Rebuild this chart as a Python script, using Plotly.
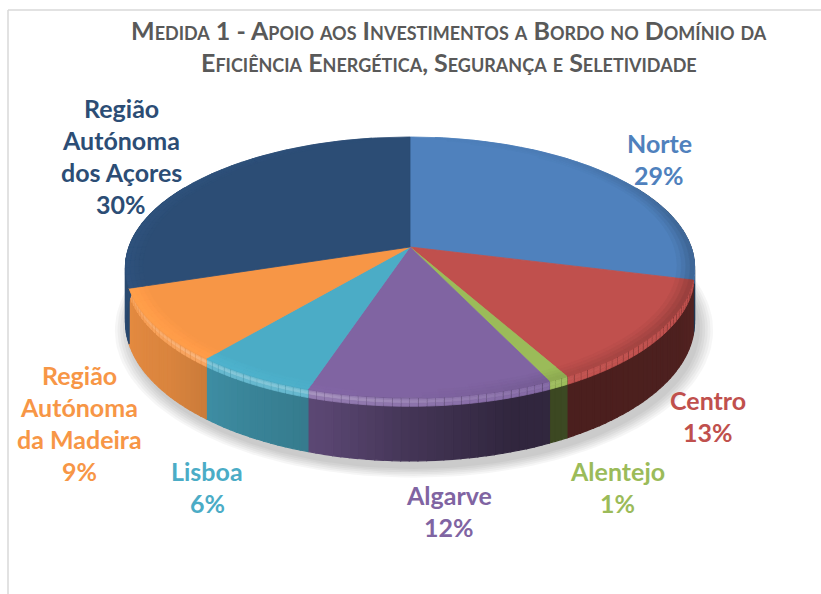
import numpy as np
import plotly.graph_objects as go

# ---------------- data ----------------
categories = ["Norte", "Centro", "Alentejo", "Algarve", "Lisboa",
              "Região Autónoma da Madeira", "Região Autónoma dos Açores"]
label_lines = [["Norte"], ["Centro"], ["Alentejo"], ["Algarve"], ["Lisboa"],
               ["Região", "Autónoma", "da Madeira"],
               ["Região", "Autónoma", "dos Açores"]]
values = [29, 13, 1, 12, 6, 9, 30]
colors = ["#4F81BD", "#C0504D", "#9BBB59", "#8064A2", "#4BACC6", "#F79646", "#2C4D75"]
title_lines = ["Medida 1 - Apoio aos Investimentos a Bordo no Domínio da",
               "Eficiência Energética, Segurança e Seletividade"]

# ---------------- layout / geometry (styles) ----------------
W, H_PX = 821, 594
CX, CY = 410.0, 247.0      # apex of the pie
SX, SY = 281.0, 127.3      # radii of projected disk
K = 0.157                  # perspective strength
DEPTH = 53.0               # thickness of the pie
label_pos = [(659, 159), (708, 416), (617, 487), (449, 511),
             (207, 487), (79, 423), (121, 156)]
LINE_GAP = 32
LABEL_FONT = dict(family="Lato", size=25)

def proj(theta_deg, r=1.0, dz=0.0):
    t = np.radians(theta_deg)
    u = r * np.sin(t)
    v = -r * np.cos(t)
    d = 1.0 - K * v
    return CX + SX * u / d, CY + SY * v / d + dz / d

def arc(a0, a1, r=1.0, dz=0.0, step=1.0):
    n = max(2, int(np.ceil(abs(a1 - a0) / step)) + 1)
    th = np.linspace(a0, a1, n)
    return proj(th, r, dz)

def hex2rgb(h):
    h = h.lstrip("#")
    return np.array([int(h[i:i + 2], 16) for i in (0, 2, 4)], dtype=float)

def rgbstr(c, a=None):
    c = np.clip(c, 0, 255).round().astype(int)
    if a is None:
        return f"rgb({c[0]},{c[1]},{c[2]})"
    return f"rgba({c[0]},{c[1]},{c[2]},{a})"

wall_tab_a = [40, 90, 120, 150, 162, 180, 195, 210, 230, 250, 270, 320]
wall_tab_f = [0.55, 0.47, 0.40, 0.39, 0.38, 0.53, 0.70, 0.77, 0.88, 0.92, 0.97, 0.97]
hl_tab_a = [90, 150, 175, 195, 215, 245, 280, 320]
hl_tab_s = [0.0, 0.03, 0.18, 0.30, 0.32, 0.18, 0.06, 0.0]
rim_tab_a = [0, 40, 80, 115, 150, 180, 240, 300, 360]
rim_tab_f = [1.0, 0.95, 0.80, 0.80, 0.90, 1.0, 1.06, 1.05, 1.0]

def poly(fig, xs, ys, color, lw=1.0):
    fig.add_trace(go.Scatter(x=xs, y=ys, mode="lines", fill="toself",
                             fillcolor=color, line=dict(color=color, width=lw),
                             hoverinfo="skip", showlegend=False))

fig = go.Figure()

total = float(sum(values))
spans = [v / total * 360.0 for v in values]
starts = np.concatenate([[0.0], np.cumsum(spans)[:-1]])

# soft shadow
for i in range(6):
    r = 1.05 - i * 0.009
    xs, ys = arc(0, 360, r=r, dz=DEPTH + 6, step=2)
    fig.add_trace(go.Scatter(x=np.append(xs + 4, xs[0] + 4), y=np.append(ys, ys[0]),
                             mode="lines", fill="toself", fillcolor="rgba(0,0,0,0.035)",
                             line=dict(width=0), hoverinfo="skip", showlegend=False))

# side walls
for i, (a0, sp) in enumerate(zip(starts, spans)):
    base = hex2rgb(colors[i])
    lo, hi = max(a0, 60.0), min(a0 + sp, 300.0)
    if hi <= lo:
        continue
    n = max(1, int(np.ceil((hi - lo) / 1.5)))
    edges = np.linspace(lo, hi, n + 1)
    for a, b in zip(edges[:-1], edges[1:]):
        m = 0.5 * (a + b)
        f = np.interp(m, wall_tab_a, wall_tab_f)
        c = base * f
        xt, yt = arc(a, b, 1.0, 0.0, 0.5)
        xb, yb = arc(b, a, 1.0, DEPTH, 0.5)
        poly(fig, np.concatenate([xt, xb, xt[:1]]), np.concatenate([yt, yb, yt[:1]]), rgbstr(c), 1.2)
        s = np.interp(m, hl_tab_a, hl_tab_s)
        if s > 0.005:
            for (d0, d1, w) in [(0.5, 2.0, 0.6), (2.0, 4.5, 1.0), (4.5, 7.0, 0.5)]:
                ss = s * w
                hc = base * (1 - ss) + 255 * ss
                xt, yt = arc(a, b, 1.0, d0, 0.5)
                xb, yb = arc(b, a, 1.0, d1, 0.5)
                poly(fig, np.concatenate([xt, xb, xt[:1]]), np.concatenate([yt, yb, yt[:1]]),
                     rgbstr(hc), 0.8)

# top faces
for i, (a0, sp) in enumerate(zip(starts, spans)):
    xs, ys = arc(a0, a0 + sp, 1.0, 0.0, 0.5)
    poly(fig, np.concatenate([[CX], xs, [CX]]), np.concatenate([[CY], ys, [CY]]), colors[i], 0.8)

# bevel rim on top faces
rim_bands = [(0.94, 0.955, 0.2), (0.955, 0.97, 0.45), (0.97, 0.985, 0.75), (0.985, 1.0, 1.0)]
for i, (a0, sp) in enumerate(zip(starts, spans)):
    base = hex2rgb(colors[i])
    n = max(1, int(np.ceil(sp / 3.0)))
    edges = np.linspace(a0, a0 + sp, n + 1)
    for a, b in zip(edges[:-1], edges[1:]):
        m = 0.5 * (a + b)
        f = np.interp(m, rim_tab_a, rim_tab_f)
        for (r1, r2, w) in rim_bands:
            ff = 1 + (f - 1) * w
            if abs(ff - 1) < 0.008:
                continue
            xo, yo = arc(a, b, r2, 0.0, 0.5)
            xi, yi = arc(b, a, r1, 0.0, 0.5)
            poly(fig, np.concatenate([xo, xi, xo[:1]]), np.concatenate([yo, yi, yo[:1]]),
                 rgbstr(base * ff), 0.6)

# ---------------- labels ----------------
annotations = []
for i, v in enumerate(values):
    pct = int(round(v / total * 100))
    lines = label_lines[i] + [f"{pct}%"]
    xc, yc = label_pos[i]
    nl = len(lines)
    for k, t in enumerate(lines):
        annotations.append(dict(x=xc, y=yc + (k - (nl - 1) / 2.0) * LINE_GAP, text=f"<b>{t}</b>",
                                showarrow=False, xanchor="center", yanchor="middle",
                                font=dict(color=colors[i], **LABEL_FONT)))

for k, t in enumerate(title_lines):
    annotations.append(dict(x=449, y=30 + k * 32, text=f"<b>{t}</b>", showarrow=False,
                            xanchor="center", yanchor="middle",
                            font=dict(family="Lato", size=25, color="#595959",
                                      variant="small-caps")))

fig.update_layout(
    width=W, height=H_PX,
    margin=dict(l=0, r=0, t=0, b=0),
    paper_bgcolor="white", plot_bgcolor="white",
    showlegend=False,
    xaxis=dict(range=[0, W], visible=False, fixedrange=True),
    yaxis=dict(range=[H_PX, 0], visible=False, fixedrange=True),
    annotations=annotations,
    shapes=[dict(type="line", x0=8, x1=W, y0=10, y1=10, line=dict(color="#D9D9D9", width=1.5)),
            dict(type="line", x0=8, x1=8, y0=10, y1=H_PX, line=dict(color="#D9D9D9", width=1.5))],
)

fig.write_html("out.html", config={"displayModeBar": False},
               post_script="document.body.style.margin='0px';")
